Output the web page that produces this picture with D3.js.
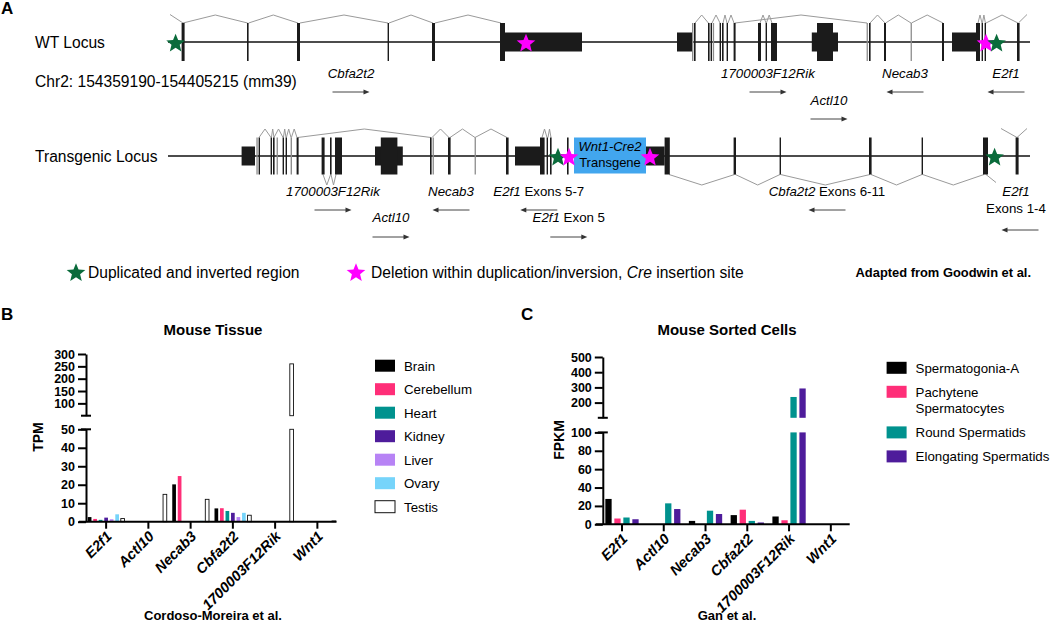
<!DOCTYPE html>
<html>
<head>
<meta charset="utf-8">
<script src="https://cdn.jsdelivr.net/npm/d3@7"></script>
<style>
  body { margin: 0; background: #fff; }
  svg { display: block; font-family: "Liberation Sans", Arial, Helvetica, sans-serif; }
</style>
</head>
<body>
<svg id="fig" width="1050" height="624"></svg>
<script>
// ---------------- data ----------------
// gene models: [start kb, end kb, kind]  c = coding exon, u = utr, f = faint exon
var wtExons = [
  [0.68, 0.83, 'c'], [3.95, 4.03, 'c'], [6.45, 6.6, 'c'], [10.98, 11.05, 'c'], [13.2, 13.35, 'c'],
  [16.6, 16.85, 'c'], [16.85, 20.7, 'u'],
  [25.45, 26.2, 'u'], [26.2, 26.27, 'f'], [26.3, 26.38, 'c'], [27.0, 27.08, 'c'], [27.13, 27.2, 'c'],
  [27.24, 27.3, 'f'], [27.58, 27.65, 'c'], [27.7, 27.78, 'c'], [27.93, 28.0, 'c'], [28.28, 28.38, 'c'],
  [29.5, 29.65, 'c'], [29.88, 29.95, 'c'], [30.15, 30.45, 'c'],
  [32.19, 33.5, 'u'], [32.45, 33.25, 'c'],
  [34.93, 34.98, 'f'], [35.05, 35.13, 'c'], [35.8, 35.9, 'c'], [37.13, 37.18, 'f'], [38.7, 38.8, 'c'],
  [39.2, 40.4, 'u'], [40.4, 40.6, 'c'], [40.68, 40.75, 'c'], [40.83, 40.9, 'c'], [42.45, 42.58, 'c']
];
var wtIntrons = [
  [0.75, 3.98], [4.03, 6.5], [6.6, 11.0], [11.05, 13.25], [13.35, 16.65],
  [26.35, 27.02], [27.2, 27.6], [27.75, 27.95], [28.0, 28.3], [28.35, 34.95],
  [29.6, 29.9], [29.92, 30.2],
  [35.1, 35.85], [35.88, 37.15], [37.17, 38.75],
  [40.5, 40.7], [40.72, 40.87], [40.9, 42.5]
];
var wtStubs = [[0.75, 0.1], [42.52, 42.95]];
var wtStars = [[0.38, 'dup'], [17.9, 'del'], [40.9, 'del'], [41.43, 'dup']];
var wtLabels = [
  { gene: 'Cbfa2t2', kb: 9.15, row: 0, dir: 1 },
  { gene: '1700003F12Rik', kb: 30.0, row: 0, dir: 1 },
  { gene: 'Necab3', kb: 36.85, row: 0, dir: -1 },
  { gene: 'E2f1', kb: 41.9, row: 0, dir: -1 },
  { gene: 'Actl10', kb: 33.05, row: 1, dir: 1 }
];

var tgExons = [
  [3.68, 4.35, 'u'], [4.42, 4.48, 'f'], [4.53, 4.6, 'c'], [5.13, 5.2, 'c'], [5.25, 5.33, 'c'],
  [5.43, 5.49, 'f'], [5.73, 5.8, 'c'], [5.88, 5.95, 'c'], [6.13, 6.2, 'f'], [6.43, 6.53, 'c'],
  [7.68, 7.83, 'c'], [8.1, 8.18, 'c'], [8.35, 8.7, 'c'],
  [10.35, 11.74, 'u'], [10.64, 11.47, 'c'],
  [13.1, 13.18, 'c'], [13.23, 13.28, 'f'], [14.0, 14.13, 'c'], [15.33, 15.38, 'f'], [16.9, 17.03, 'c'],
  [17.35, 18.6, 'u'], [18.6, 18.83, 'c'], [18.93, 19.0, 'c'], [19.1, 19.18, 'c'],
  [19.95, 20.03, 'c'],
  [23.9, 24.83, 'u'], [24.83, 25.09, 'c'],
  [28.28, 28.4, 'c'], [30.58, 30.65, 'c'], [35.05, 35.18, 'c'], [37.68, 37.75, 'c'], [40.75, 41.0, 'c'],
  [42.38, 42.53, 'c']
];
var tgIntronsUp = [
  [4.55, 5.15], [5.17, 5.3], [5.3, 5.75], [5.77, 5.9], [5.92, 6.15], [6.17, 6.45],
  [6.48, 13.15], [13.2, 14.05], [14.1, 15.35], [15.35, 16.95],
  [18.7, 18.95], [19.0, 19.15]
];
var tgIntronsDown = [
  [7.75, 8.13], [8.15, 8.4],
  [25.05, 28.33], [28.37, 30.6], [30.63, 35.1], [35.15, 37.7], [37.73, 40.8]
];
var tgStubsUp = [[42.45, 41.65], [42.45, 42.95]];
var tgStubsDown = [[40.9, 41.4]];
var tgInsert = { name: 'Wnt1-Cre2', sub: 'Transgene', start: 20.3, end: 23.9 };
var tgStars = [[19.5, 'dup'], [20.05, 'del'], [24.1, 'del'], [41.33, 'dup']];
var tgLabels = [
  { gene: '1700003F12Rik', kb: 8.25, row: 0, dir: 1 },
  { gene: 'Necab3', kb: 14.15, row: 0, dir: -1 },
  { gene: 'E2f1', suffix: ' Exons 5-7', kb: 18.54, row: 0, dir: -1 },
  { gene: 'Cbfa2t2', suffix: ' Exons 6-11', kb: 32.95, row: 0, dir: -1 },
  { gene: 'Actl10', kb: 11.15, row: 1, dir: 1 },
  { gene: 'E2f1', suffix: ' Exon 5', kb: 20.04, row: 1, dir: 1 },
  { gene: 'E2f1', suffix: 'Exons 1-4', kb: 42.4, row: 0, dir: -1, stacked: true }
];

// expression, panel B (TPM)
var genes = ['E2f1', 'Actl10', 'Necab3', 'Cbfa2t2', '1700003F12Rik', 'Wnt1'];
var tissues = ['Brain', 'Cerebellum', 'Heart', 'Kidney', 'Liver', 'Ovary', 'Testis'];
var tpmBrain      = [2.5, 0, 20.2, 7.2, 0, 0];
var tpmCerebellum = [1.5, 0, 24.7, 7.3, 0, 0];
var tpmHeart      = [1.0, 0, 0, 5.8, 0, 0];
var tpmKidney     = [2.2, 0, 0, 4.8, 0, 0];
var tpmLiver      = [1.3, 0, 0, 2.5, 0, 0];
var tpmOvary      = [4.0, 0, 0.5, 4.8, 0, 0];
var tpmTestis     = [1.7, 14.8, 12.1, 3.5, 260, 0.4];
var tpmTicksLow = [0, 10, 20, 30, 40, 50];
var tpmTicksHigh = [100, 150, 200, 250, 300];

// expression, panel C (FPKM)
var cellTypes = ['Spermatogonia-A', 'Pachytene Spermatocytes', 'Round Spermatids', 'Elongating Spermatids'];
var fpkmSpgA  = [27.6, 0, 3.7, 10.0, 8.5, 0];
var fpkmPach  = [6.3, 0, 0, 15.9, 4.4, 0];
var fpkmRound = [7.4, 22.8, 14.8, 3.7, 237, 0];
var fpkmElong = [5.5, 16.6, 11.2, 2.0, 293, 0];
var fpkmTicksLow = [0, 20, 40, 60, 80, 100];
var fpkmTicksHigh = [200, 300, 400, 500];

// ---------------- drawing ----------------
var fig = d3.select('#fig');
var green = '#0a6b3b', magenta = '#ff00ff';

function starPath(r) {
  var pts = [];
  for (var i = 0; i < 10; i++) {
    var rad = i % 2 ? r * 0.44 : r;
    var a = Math.PI / 5 * i - Math.PI / 2;
    pts.push([rad * Math.cos(a), rad * Math.sin(a)]);
  }
  return d3.line()(pts) + 'Z';
}

function arrow(g, cx, y, dir, len) {
  var x1 = cx - dir * len / 2, x2 = cx + dir * len / 2;
  g.append('line').attr('x1', x1).attr('x2', x2 - dir * 3).attr('y1', y).attr('y2', y)
    .attr('stroke', '#444').attr('stroke-width', 1);
  g.append('path').attr('d', 'M' + x2 + ',' + y + 'l' + (-dir * 6) + ',-2.5v5Z').attr('fill', '#333');
}

// ---- A ----
var lx = d3.scaleLinear().domain([0, 43.1]).range([168, 1030]);

function drawLocus(L) {
  var g = fig.append('g');
  var cy = L.y, tall = L.tall, short = 9.5;
  g.append('text').attr('x', 35).attr('y', cy + 5.5).attr('font-size', 15.6).text(L.title);
  g.append('line').attr('x1', lx(0)).attr('x2', lx(43.1)).attr('y1', cy).attr('y2', cy)
    .attr('stroke', '#111').attr('stroke-width', 1.4);

  var hat = function(base, peak) {
    return function(d) {
      return 'M' + lx(d[0]) + ',' + base + 'L' + lx((d[0] + d[1]) / 2) + ',' + peak + 'L' + lx(d[1]) + ',' + base;
    };
  };
  var stub = function(base, peak) {
    return function(d) { return 'M' + lx(d[0]) + ',' + base + 'L' + lx(d[1]) + ',' + peak; };
  };
  var intronStyle = function(sel) {
    sel.attr('fill', 'none').attr('stroke', '#9a9a9a').attr('stroke-width', 1);
  };
  g.selectAll('.iu').data(L.up).enter().append('path').attr('d', hat(cy - tall, cy - 27)).call(intronStyle);
  g.selectAll('.id').data(L.down).enter().append('path').attr('d', hat(cy + tall, cy + 29)).call(intronStyle);
  g.selectAll('.su').data(L.stubsUp).enter().append('path').attr('d', stub(cy - tall, cy - 27.5)).call(intronStyle);
  g.selectAll('.sd').data(L.stubsDown).enter().append('path').attr('d', stub(cy + tall, cy + 26.5)).call(intronStyle);

  g.selectAll('.ex').data(L.exons).enter().append('rect')
    .attr('x', function(d) { return lx(d[0]); })
    .attr('width', function(d) { return Math.max(lx(d[1]) - lx(d[0]), 1.3); })
    .attr('y', function(d) { return d[2] === 'u' ? cy - short : cy - tall; })
    .attr('height', function(d) { return d[2] === 'u' ? short * 2 : tall * 2; })
    .attr('fill', function(d) { return d[2] === 'f' ? '#8c8c8c' : '#1b1b1b'; });

  if (L.insert) {
    var ins = L.insert, mx = (lx(ins.start) + lx(ins.end)) / 2;
    g.append('rect').attr('x', lx(ins.start)).attr('width', lx(ins.end) - lx(ins.start))
      .attr('y', cy - tall).attr('height', tall * 2 - 1).attr('fill', '#42a6ee');
    g.append('text').attr('x', mx).attr('y', cy - 5).attr('text-anchor', 'middle')
      .attr('font-size', 13).attr('font-style', 'italic').text(ins.name);
    g.append('text').attr('x', mx).attr('y', cy + 10.5).attr('text-anchor', 'middle')
      .attr('font-size', 13).text(ins.sub);
  }

  g.selectAll('.star').data(L.stars).enter().append('path')
    .attr('d', starPath(9.8))
    .attr('transform', function(d) { return 'translate(' + lx(d[0]) + ',' + (cy + 1.5) + ')'; })
    .attr('fill', function(d) { return d[1] === 'dup' ? green : magenta; });

  L.labels.forEach(function(d) {
    var cx = lx(d.kb);
    var t = g.append('text').attr('x', cx).attr('text-anchor', 'middle').attr('font-size', 13.3);
    if (d.stacked) {
      t.attr('y', L.rows[0]).attr('font-style', 'italic').text(d.gene);
      g.append('text').attr('x', cx).attr('y', L.stackRow).attr('text-anchor', 'middle')
        .attr('font-size', 13.3).text(d.suffix);
      arrow(g, cx + 4, L.stackArrow, d.dir, 37);
      return;
    }
    t.attr('y', L.rows[d.row]);
    t.append('tspan').attr('font-style', 'italic').text(d.gene);
    if (d.suffix) t.append('tspan').text(d.suffix);
    arrow(g, cx, L.arrows[d.row], d.dir, 37);
  });
}

drawLocus({ title: 'WT Locus', y: 42, tall: 19, exons: wtExons, up: wtIntrons, down: [],
  stubsUp: wtStubs, stubsDown: [], stars: wtStars, labels: wtLabels,
  rows: [78, 105], arrows: [92, 119] });
drawLocus({ title: 'Transgenic Locus', y: 156, tall: 18.5, exons: tgExons, up: tgIntronsUp, down: tgIntronsDown,
  stubsUp: tgStubsUp, stubsDown: tgStubsDown, stars: tgStars, labels: tgLabels, insert: tgInsert,
  rows: [196, 222], arrows: [210, 237], stackRow: 213, stackArrow: 230 });

fig.append('text').attr('x', 35).attr('y', 86.5).attr('font-size', 15.6).text('Chr2: 154359190-154405215 (mm39)');

// legend of A
var leg = fig.append('g');
leg.append('path').attr('d', starPath(9.8)).attr('transform', 'translate(76,273)').attr('fill', green);
leg.append('text').attr('x', 88).attr('y', 277.5).attr('font-size', 15.6).text('Duplicated and inverted region');
leg.append('path').attr('d', starPath(9.8)).attr('transform', 'translate(356,273)').attr('fill', magenta);
var lt = leg.append('text').attr('x', 371).attr('y', 277.5).attr('font-size', 15.6);
lt.append('tspan').text('Deletion within duplication/inversion, ');
lt.append('tspan').attr('font-style', 'italic').text('Cre');
lt.append('tspan').text(' insertion site');
leg.append('text').attr('x', 1031).attr('y', 276.5).attr('text-anchor', 'end')
  .attr('font-size', 12.9).attr('font-weight', 'bold').text('Adapted from Goodwin et al.');

// panel letters
[['A', 1, 14], ['B', 1, 320], ['C', 521, 320]].forEach(function(p) {
  fig.append('text').attr('x', p[1]).attr('y', p[2]).attr('font-size', 17).attr('font-weight', 'bold').text(p[0]);
});

// ---- B and C: broken-axis grouped bars ----
function barPanel(o) {
  var g = fig.append('g');
  var x0 = d3.scaleBand().domain(genes).range(o.xRange);
  var x1 = d3.scaleBand().domain(o.series).range([0, x0.bandwidth()])
    .paddingInner(o.padIn).paddingOuter(o.padOut);
  var yLo = d3.scaleLinear().domain(o.low).range(o.lowRange);
  var yHi = d3.scaleLinear().domain(o.high).range(o.highRange);
  var ax = o.axisX;

  // bars
  o.series.forEach(function(s, i) {
    var vals = o.values[i];
    var col = o.colors[i];
    var sg = g.append('g');
    var parts = [];
    vals.forEach(function(v, j) {
      if (v <= 0) return;
      var x = x0(genes[j]) + x1(s);
      parts.push({ x: x, y0: yLo(0), y1: yLo(Math.min(v, o.low[1])) });
      if (v > o.high[0]) parts.push({ x: x, y0: yHi(o.high[0]), y1: yHi(v) });
    });
    sg.selectAll('rect').data(parts).enter().append('rect')
      .attr('x', function(d) { return d.x; })
      .attr('width', x1.bandwidth())
      .attr('y', function(d) { return d.y1; })
      .attr('height', function(d) { return Math.max(d.y0 - d.y1, 0.6); })
      .attr('fill', col === 'none' ? '#fff' : col)
      .attr('stroke', col === 'none' ? '#111' : null)
      .attr('stroke-width', col === 'none' ? 0.9 : null);
  });

  // y axes
  var styleAxis = function(sel) {
    sel.select('.domain').attr('stroke', '#000').attr('stroke-width', 2);
    sel.selectAll('.tick line').attr('stroke', '#000').attr('stroke-width', 2);
    sel.selectAll('.tick text').attr('font-size', 12.5).attr('font-weight', 'bold')
      .attr('font-family', '"Liberation Sans", Arial, sans-serif').attr('fill', '#000');
  };
  g.append('g').attr('transform', 'translate(' + ax + ',0)')
    .call(d3.axisLeft(yLo).tickValues(o.ticksLow).tickSize(8).tickSizeOuter(0).tickPadding(3))
    .call(styleAxis);
  g.append('g').attr('transform', 'translate(' + ax + ',0)')
    .call(d3.axisLeft(yHi).tickValues(o.ticksHigh).tickSize(8).tickSizeOuter(0).tickPadding(3))
    .call(styleAxis);
  // break caps
  [yHi(o.high[0]), yLo(o.low[1])].forEach(function(y) {
    g.append('line').attr('x1', ax - 5).attr('x2', ax + 5).attr('y1', y).attr('y2', y)
      .attr('stroke', '#000').attr('stroke-width', 2);
  });

  // x axis
  var y0 = yLo(0);
  g.append('line').attr('x1', ax - 7).attr('x2', o.xRange[1] - 2).attr('y1', y0).attr('y2', y0)
    .attr('stroke', '#000').attr('stroke-width', 2);
  genes.forEach(function(gn) {
    var cx = x0(gn) + x0.bandwidth() / 2;
    g.append('line').attr('x1', cx).attr('x2', cx).attr('y1', y0).attr('y2', y0 + 7)
      .attr('stroke', '#000').attr('stroke-width', 2);
    g.append('text').attr('transform', 'translate(' + (cx + 3) + ',' + (y0 + 12) + ') rotate(-45)')
      .attr('text-anchor', 'end').attr('dy', '0.35em')
      .attr('font-size', 14.5).attr('font-weight', 'bold').attr('font-style', 'italic').text(gn);
  });

  // titles
  g.append('text').attr('x', o.titleX).attr('y', 335).attr('text-anchor', 'middle')
    .attr('font-size', 15).attr('font-weight', 'bold').text(o.title);
  g.append('text').attr('transform', 'translate(' + o.yTitleX + ',' + o.yTitleY + ') rotate(-90)')
    .attr('text-anchor', 'middle').attr('font-size', 14).attr('font-weight', 'bold').text(o.yTitle);
  g.append('text').attr('x', o.titleX).attr('y', 620).attr('text-anchor', 'middle')
    .attr('font-size', 13).attr('font-weight', 'bold').text(o.xTitle);

  // legend
  var ly = o.legendY;
  o.series.forEach(function(s, i) {
    var lines = o.legendLines[i];
    var col = o.colors[i];
    g.append('rect').attr('x', o.legendX).attr('y', ly - 6).attr('width', 20).attr('height', 12)
      .attr('fill', col === 'none' ? '#fff' : col)
      .attr('stroke', col === 'none' ? '#111' : null).attr('stroke-width', 1);
    lines.forEach(function(line, k) {
      g.append('text').attr('x', o.legendX + 29).attr('y', ly + 5 + k * 16.6)
        .attr('font-size', 13.3).text(line);
    });
    ly += o.legendStep + (lines.length - 1) * 16.6;
  });
}

barPanel({
  series: tissues,
  values: [tpmBrain, tpmCerebellum, tpmHeart, tpmKidney, tpmLiver, tpmOvary, tpmTestis],
  colors: ['#000000', '#ff2e78', '#00928e', '#4e1c9b', '#b783f5', '#76d4fa', 'none'],
  xRange: [85, 338.5], padIn: 0.33, padOut: 0.5, axisX: 86,
  low: [0, 50], lowRange: [521.7, 429.3], high: [50, 300], highRange: [415.7, 354],
  ticksLow: tpmTicksLow, ticksHigh: tpmTicksHigh,
  title: 'Mouse Tissue', titleX: 213, yTitle: 'TPM', yTitleX: 43, yTitleY: 437,
  xTitle: 'Cordoso-Moreira et al.',
  legendX: 375, legendY: 365.7, legendStep: 23.5,
  legendLines: tissues.map(function(t) { return [t]; })
});

barPanel({
  series: cellTypes,
  values: [fpkmSpgA, fpkmPach, fpkmRound, fpkmElong],
  colors: ['#000000', '#ff2e78', '#00928e', '#4e1c9b'],
  xRange: [601.1, 851.7], padIn: 0.3, padOut: 0.47, axisX: 602.8,
  low: [0, 100], lowRange: [524.3, 432.4], high: [100, 500], highRange: [417.8, 357],
  ticksLow: fpkmTicksLow, ticksHigh: fpkmTicksHigh,
  title: 'Mouse Sorted Cells', titleX: 727, yTitle: 'FPKM', yTitleX: 564, yTitleY: 440,
  xTitle: 'Gan et al.',
  legendX: 886.6, legendY: 367.8, legendStep: 24,
  legendLines: [['Spermatogonia-A'], ['Pachytene', 'Spermatocytes'], ['Round Spermatids'], ['Elongating Spermatids']]
});
</script>
</body>
</html>
